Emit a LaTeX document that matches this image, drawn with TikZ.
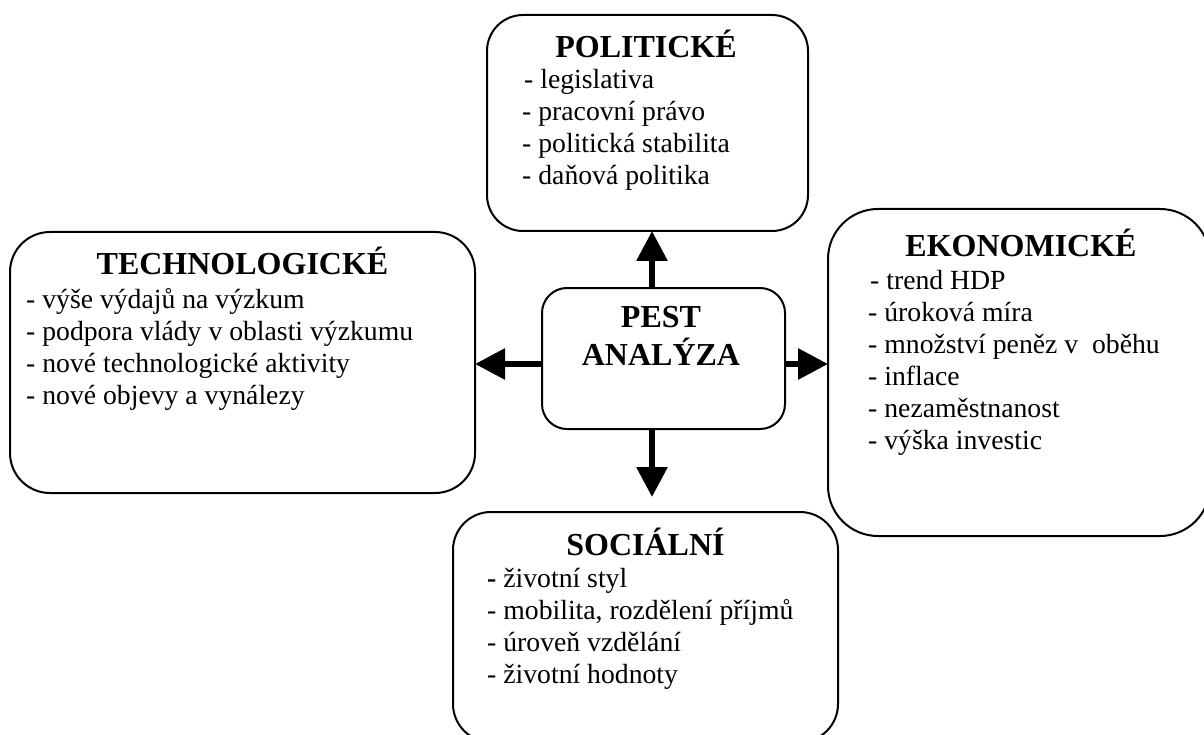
\documentclass[tikz,border=0pt]{standalone}
\usepackage{fontspec}
\setmainfont{Liberation Serif}
\usetikzlibrary{arrows.meta}
\begin{document}
\begin{tikzpicture}[x=1pt,y=-1pt,
  box/.style={draw, line width=2pt, inner sep=0pt, outer sep=0pt},
  arr/.style={line width=6pt, -{Triangle[length=30pt,width=30pt]}},
  head/.style={font=\bfseries\fontsize{32}{38}\selectfont, inner sep=0pt, anchor=base},
  item/.style={font=\fontsize{27.7}{32}\selectfont, inner sep=0pt, anchor=base west}]
\useasboundingbox (0,0) rectangle (1204,735);

% the five boxes
\node[box, rounded corners=40pt, minimum width=465pt, minimum height=261pt] (tech) at (242.5,362.5) {};
\node[box, rounded corners=36pt, minimum width=321pt, minimum height=216pt] (pol) at (647.5,123) {};
\node[box, rounded corners=25pt, minimum width=243pt, minimum height=141pt] (pest) at (663.5,358.5) {};
\node[box, rounded corners=50pt, minimum width=382pt, minimum height=327pt] (eko) at (1019,372.5) {};
\node[box, rounded corners=38pt, minimum width=385pt, minimum height=230pt] (soc) at (645.5,627) {};

% centre
\node[head] (pestA) at (661,327) {PEST};
\node[head] (pestB) at (661,365) {ANALÝZA};

% political factors
\node[head] (polT) at (646,58) {POLITICKÉ};
\node[item] (pol-1) at (524,89) {- legislativa};
\foreach \t [count=\i from 2] in {{- pracovní právo},{- politická stabilita},{- daňová politika}}
  \node[item] (pol-\i) at (522,{89+32*(\i-1)}) {\t};

% technological factors
\node[head] (techT) at (242.5,275) {TECHNOLOGICKÉ};
\foreach \t [count=\i] in {{- výše výdajů na výzkum},{- podpora vlády v oblasti výzkumu},{- nové technologické aktivity},{- nové objevy a vynálezy}}
  \node[item] (tech-\i) at (26,{308+32*(\i-1)}) {\t};

% economic factors
\node[head] (ekoT) at (1021,257) {EKONOMICKÉ};
\node[item] (eko-1) at (870,289) {- trend HDP};
\foreach \t [count=\i from 2] in {{- úroková míra},{- množství peněz v\ \ oběhu},{- inflace},{- nezaměstnanost},{- výška investic}}
  \node[item] (eko-\i) at (868,{289+32*(\i-1)}) {\t};

% social factors
\node[head] (socT) at (645.5,555) {SOCIÁLNÍ};
\node[item] (soc-1) at (487,587) {\textbf{-} životní styl};
\foreach \t [count=\i from 2] in {{- mobilita, rozdělení příjmů},{- úroveň vzdělání},{- životní hodnoty}}
  \node[item] (soc-\i) at (487,{587+32*(\i-1)}) {\t};

% arrows from the centre
\coordinate (upfoot) at ([xshift=-11.5pt]pest.north);
\coordinate (downfoot) at ([xshift=-11.5pt]pest.south);
\coordinate (downtip) at (652,497);
\coordinate (lfoot) at ([yshift=-5.5pt]pest.west);
\coordinate (rfoot) at ([yshift=-5.5pt]pest.east);
\draw[arr] (upfoot) -- (upfoot |- pol.south);
\draw[arr] (downfoot) -- (downtip);
\draw[arr] (lfoot) -- (lfoot -| tech.east);
\draw[arr] (rfoot) -- (rfoot -| eko.west);
\end{tikzpicture}
\end{document}
